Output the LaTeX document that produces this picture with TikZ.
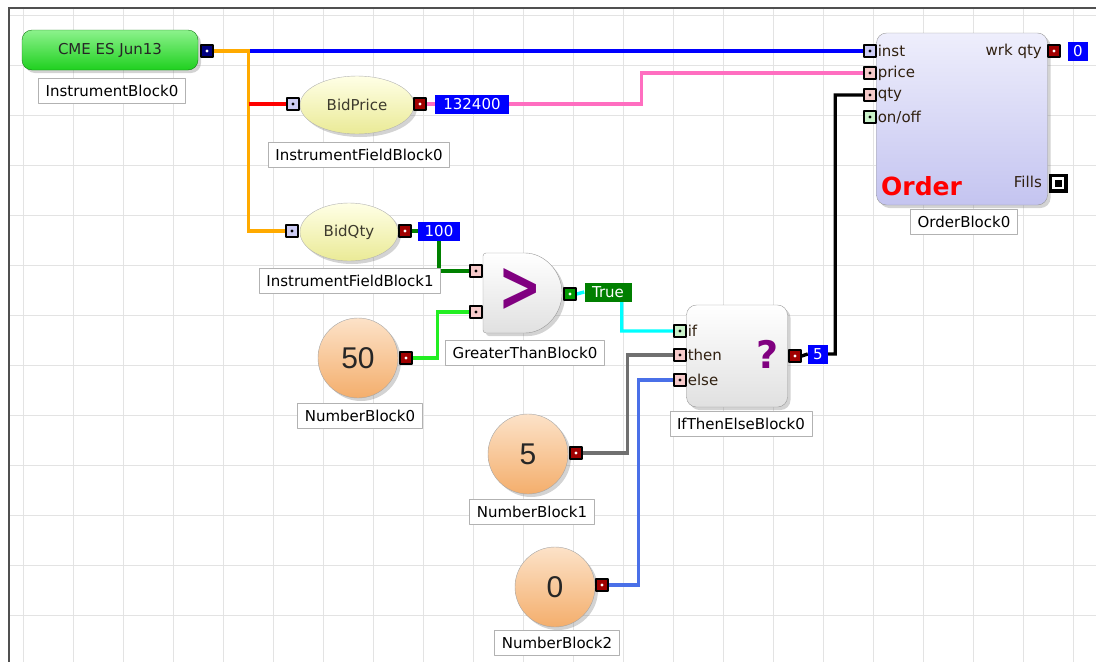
\documentclass[tikz,border=0pt]{standalone}
\usepackage{fontspec}
\setmainfont{DejaVu Sans}
\newfontfamily\numfont{Liberation Sans}
\usetikzlibrary{shapes.geometric,shadows,backgrounds}
\definecolor{instgreen}{HTML}{1FD01F}
\definecolor{instlite}{HTML}{8CF28C}
\definecolor{fieldyel}{HTML}{EAEA96}
\definecolor{fieldlite}{HTML}{FFFFE6}
\definecolor{numorange}{HTML}{F4AE6C}
\definecolor{numlite}{HTML}{FCE2C8}
\definecolor{ordlav}{HTML}{C4C4F0}
\definecolor{ordlite}{HTML}{EEEEFC}
\definecolor{pinlav}{HTML}{CCCCF4}
\definecolor{pinpink}{HTML}{F6CACA}
\definecolor{pingreen}{HTML}{CAF2CA}
\definecolor{poutred}{HTML}{A00000}
\definecolor{poutnavy}{HTML}{000080}
\definecolor{poutgreen}{HTML}{009900}
\definecolor{valblue}{HTML}{0000FF}
\definecolor{valgreen}{HTML}{007F00}
\definecolor{wpink}{HTML}{FF6EC0}
\definecolor{worange}{HTML}{FFAA00}
\definecolor{wdkgreen}{HTML}{008000}
\definecolor{wgreen}{HTML}{22EE22}
\definecolor{wcyan}{HTML}{00FFFF}
\definecolor{wgray}{HTML}{707070}
\definecolor{wblue}{HTML}{4A70E8}
\definecolor{sympurple}{HTML}{800080}
\definecolor{framegray}{HTML}{505050}

\begin{document}
\begin{tikzpicture}[x=1pt,y=-1pt,font=\fontsize{15}{17}\selectfont,line join=round,
    gridline/.style={draw=black!11,line width=0.8},
    tag/.style={draw=black!30,fill=white,line width=0.8,minimum height=25,inner xsep=7,inner ysep=0},
    port/.style={draw=black,line width=1.2,minimum size=12,inner sep=0,
        path picture={\fill[#1] (path picture bounding box.center) circle (1.6pt);}},
    pin/.style={port=black,fill=#1},
    pout/.style={port=white,fill=#1},
    val/.style={fill=#1,text=white,inner sep=1.5,minimum height=19},
    wire/.style={line width=3.4},
    plab/.style={text=black!75!brown,inner sep=1,anchor=west},
    blockshadow/.style={drop shadow={opacity=0.35,shadow xshift=3pt,shadow yshift=-3pt}},
    field/.style={ellipse,minimum height=58,inner sep=0,draw=black!30,top color=fieldlite,bottom color=fieldyel,blockshadow,text=black!75!olive},
    ball/.style={circle,minimum size=80,inner sep=0,draw=black!35,top color=numlite,bottom color=numorange,blockshadow,
        font=\numfont\fontsize{30}{30}\selectfont,text=black!85},
    gblock/.style={draw=black!40,top color=white,bottom color=black!12,blockshadow}]
\useasboundingbox (0,0) rectangle (1096,662);

\node[rectangle,rounded corners=10,minimum width=176,minimum height=40,top color=instlite,bottom color=instgreen,
    draw=instgreen!60!black,blockshadow,text=black!85] (inst) at (110,50) {CME ES Jun13};
\node[pout=poutnavy] (instout) at (207,51) {};
\node[tag] (instlbl) at (112,91) {InstrumentBlock0};

\node[field,minimum width=114] (bp) at (357,105) {BidPrice};
\node[pin=pinlav] (bpin) at (293,104) {};
\node[pout=poutred] (bpout) at (420,104) {};
\node[val=valblue,minimum width=74] (v132) at (472,104) {132400};
\node[tag] (bplbl) at (359,155) {InstrumentFieldBlock0};

\node[field,minimum width=98] (bq) at (349,232) {BidQty};
\node[pin=pinlav] (bqin) at (292,231) {};
\node[pout=poutred] (bqout) at (405,231) {};
\node[val=valblue,minimum width=42] (v100) at (439,231) {100};
\node[tag] (bqlbl) at (350,281) {InstrumentFieldBlock1};

\path[gblock,rounded corners=3] (483,253) -- (522,253) arc[start angle=-90,end angle=90,radius=40] -- (483,333) -- cycle;
\node[font=\bfseries\fontsize{72}{72}\selectfont,text=sympurple,xscale=0.72,inner sep=0] (gt) at (520,290) {>};
\node[pin=pinpink] (gtin1) at (476,271) {};
\node[pin=pinpink] (gtin2) at (476,312) {};
\node[pout=poutgreen] (gtout) at (570,294) {};
\node[val=valgreen,minimum width=47] (vtrue) at (608,292) {True};
\node[tag] (gtlbl) at (525,353) {GreaterThanBlock0};

\node[ball] (nb0) at (358,358) {50};
\node[pout=poutred] (nb0out) at (406,358) {};
\node[tag] (nb0lbl) at (360,416) {NumberBlock0};

\node[gblock,rectangle,rounded corners=10,minimum width=101,minimum height=102] (ite) at (737,356) {};
\node[font=\bfseries\fontsize{38}{38}\selectfont,text=sympurple,inner sep=0] (itesym) at (768,354) {?};
\node[pin=pingreen] (ifin) at (680,331) {};
\node[pin=pinpink] (thenin) at (680,355) {};
\node[pin=pinpink] (elsein) at (680,380) {};
\node[plab] (iftxt) at (ifin.east) {if};
\node[plab] (thentxt) at (thenin.east) {then};
\node[plab] (elsetxt) at (elsein.east) {else};
\node[pout=poutred] (iteout) at (795,356) {};
\node[val=valblue,minimum width=20] (v5) at (818,354) {5};
\node[tag] (itelbl) at (741,424) {IfThenElseBlock0};

\node[ball] (nb1) at (528,454) {5};
\node[pout=poutred] (nb1out) at (576,453) {};
\node[tag] (nb1lbl) at (532,512) {NumberBlock1};

\node[ball] (nb2) at (555,587) {0};
\node[pout=poutred] (nb2out) at (602,585) {};
\node[tag] (nb2lbl) at (557,643) {NumberBlock2};

\node[rectangle,rounded corners=10,minimum width=171,minimum height=172,draw=black!40,top color=ordlite,bottom color=ordlav,blockshadow] (ord) at (962,119) {};
\node[pin=pinlav] (ordinst) at (870,51) {};
\node[pin=pinpink] (ordprice) at (870,73) {};
\node[pin=pinpink] (ordqty) at (870,95) {};
\node[pin=pingreen] (ordonoff) at (870,117) {};
\node[plab] (insttxt) at (ordinst.east) {inst};
\node[plab] (pricetxt) at (ordprice.east) {price};
\node[plab] (qtytxt) at (ordqty.east) {qty};
\node[plab] (onofftxt) at (ordonoff.east) {on/off};
\node[plab,anchor=east] (wrktxt) at (1043,51) {wrk qty};
\node[pout=poutred] (wrkout) at (1054,51) {};
\node[val=valblue,minimum width=20] (v0) at (1078,51) {0};
\node[font=\bfseries\fontsize{25}{25}\selectfont,text=red,anchor=south west,inner sep=0] (ordtxt) at (881,196) {Order};
\node[plab,anchor=east] (fillstxt) at (1043,182) {Fills};
\node[fill=black,minimum size=19,inner sep=0,path picture={
    \fill[white] ([shift={(-6pt,-6pt)}]path picture bounding box.center) rectangle ++(12pt,12pt);
    \fill[black] ([shift={(-3.5pt,-3.5pt)}]path picture bounding box.center) rectangle ++(7pt,7pt);}] (fills) at (1058,183) {};
\node[tag] (ordlbl) at (964,222) {OrderBlock0};

\begin{scope}[on background layer]
\foreach \gx in {23,73,...,1073} \draw[gridline] (\gx,9) -- (\gx,662);
\foreach \gy in {15,65,...,615} \draw[gridline] (10,\gy) -- (1096,\gy);
\draw[framegray,line width=2] (1096,8) -- (9,8) -- (9,662);
\draw[wire,valblue] (instout.east) -- (ordinst.west);
\draw[wire,worange] (instout.east) -- ++(35,0) coordinate (split) |- (bqin.west);
\draw[wire,red] (split |- bpin) -- (bpin.west);
\draw[wire,wpink] (bpout.east) -- (v132.west) (v132.east) -- ++(132,0) |- (ordprice.west);
\draw[wire,wdkgreen] (bqout.east) -- (v100.west) (v100.south) |- (gtin1.west);
\draw[wire,wgreen] (nb0out.east) -- ++(25,0) |- (gtin2.west);
\draw[wire,wcyan] (gtout.east) -- (vtrue.west) ([xshift=-10]vtrue.south east) |- (ifin.west);
\draw[wire,wgray] (nb1out.east) -- ++(45,0) |- (thenin.west);
\draw[wire,wblue] (nb2out.east) -- ++(30,0) |- (elsein.west);
\draw[wire,black] (iteout.east) -- (v5.west) (v5.east) -- ++(7,0) |- (ordqty.west);
\end{scope}
\end{tikzpicture}
\end{document}
